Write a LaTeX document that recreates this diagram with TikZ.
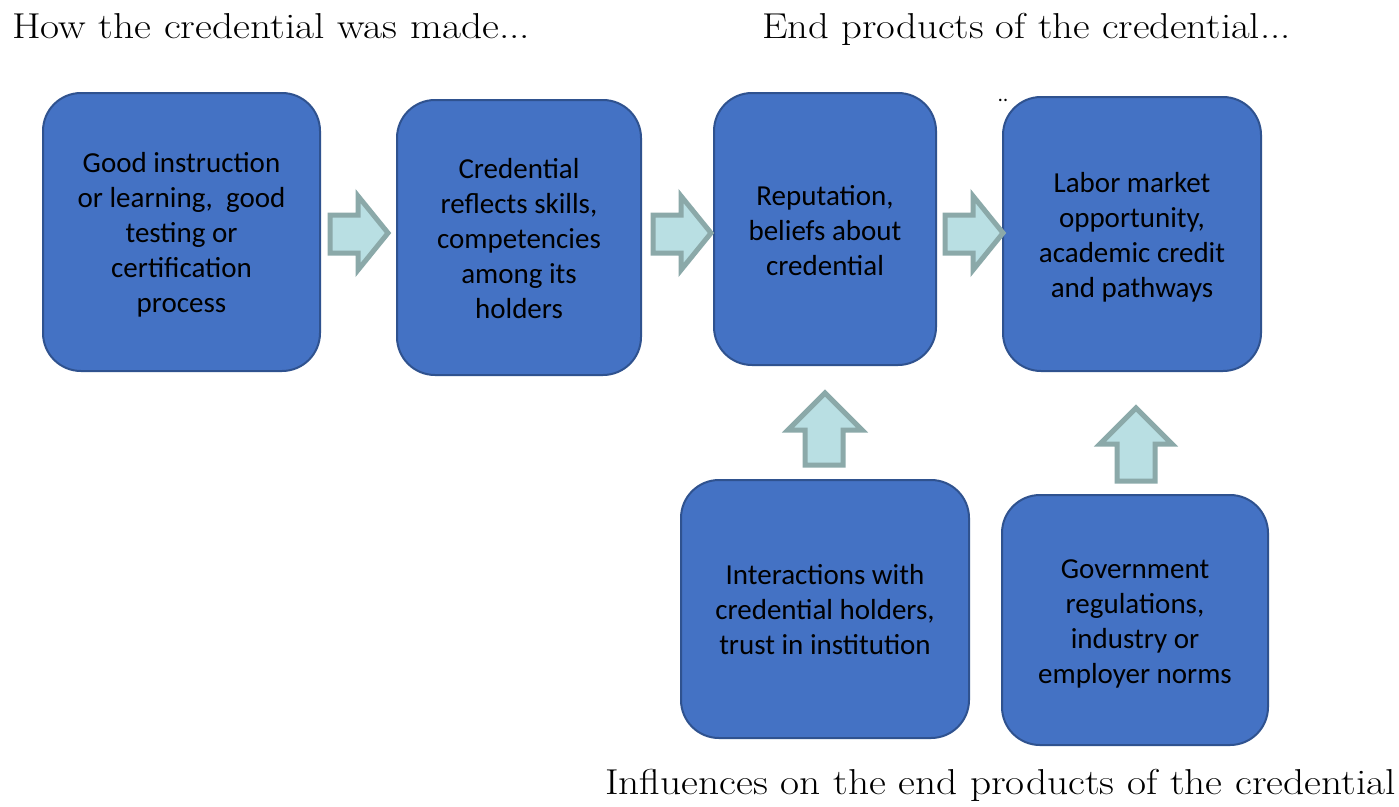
\documentclass[tikz,border=0pt]{standalone}
\usepackage{fontspec}
\setsansfont{Carlito}
\begin{document}
\begin{tikzpicture}[x=1pt,y=-1pt,
  box/.style={draw=boxedge, line width=2pt, fill=boxfill, rounded corners=38pt, inner sep=0pt},
  boxtext/.style={align=center, font=\sffamily\fontsize{29}{35}\selectfont, inner sep=0pt},
  blockarrow/.style={draw=arrowedge, line width=5pt, fill=arrowfill, line join=miter},
  title/.style={font=\fontsize{36}{40}\selectfont, inner sep=0pt, anchor=base west}]
\definecolor{boxfill}{HTML}{4472C4}
\definecolor{boxedge}{HTML}{2F528F}
\definecolor{arrowfill}{HTML}{B9DFE3}
\definecolor{arrowedge}{HTML}{8BA9A9}
\useasboundingbox (0,0) rectangle (1399,806);
\fill[white] (0,0) rectangle (1399,806);

\node[box, minimum width=277pt, minimum height=278pt] (b1) at (181.5,232) {};
\node[box, minimum width=244pt, minimum height=275pt] (b2) at (519,237.5) {};
\node[box, minimum width=222pt, minimum height=272pt] (b3) at (825,229) {};
\node[box, minimum width=258pt, minimum height=274pt] (b4) at (1132,234) {};
\node[box, minimum width=288pt, minimum height=258pt] (b5) at (825,609) {};
\node[box, minimum width=266pt, minimum height=250pt] (b6) at (1135,620) {};

\node[boxtext] (b1t) at ([yshift=-3pt]b1.center) {Good instruction\\or learning,~ good\\testing or\\certification\\process};
\node[boxtext] (b2t) at ([yshift=-1pt]b2.center) {Credential\\reflects skills,\\competencies\\among its\\holders};
\node[boxtext] (b3t) at ([yshift=-2pt]b3.center) {Reputation,\\beliefs about\\credential};
\node[boxtext] (b4t) at ([yshift=-3pt]b4.center) {Labor market\\opportunity,\\academic credit\\and pathways};
\node[boxtext] (b5t) at ([yshift=-1pt]b5.center) {Interactions with\\credential holders,\\trust in institution};
\node[boxtext] (b6t) at ([yshift=-4pt]b6.center) {Government\\regulations,\\industry or\\employer norms};

% right block arrows
\foreach \x in {330,653,945}{
  \draw[blockarrow] (\x,215) -- (\x+28,215) -- (\x+28,196) -- (\x+58,233) -- (\x+28,270) -- (\x+28,253) -- (\x,253) -- cycle;
}
% up block arrows
\draw[blockarrow] (805,465) -- (805,430) -- (788,430) -- (825,393) -- (862,430) -- (843,430) -- (843,465) -- cycle;
\draw[blockarrow] (1117,481) -- (1117,444) -- (1100,444) -- (1136,408) -- (1172,444) -- (1155,444) -- (1155,481) -- cycle;

\node[title] (t1) at (12,38) {\scalebox{1.15}[1]{How the credential was made...}};
\node[title] (t2) at (762,38) {\scalebox{1.13}[1]{End products of the credential...}};
\node[title] (t3) at (605,794) {\scalebox{1.15}[1]{Influences on the end products of the credential}};
\node[font=\sffamily\fontsize{20}{24}\selectfont, inner sep=0pt] (dots) at (1003,100) {..};
\end{tikzpicture}
\end{document}
